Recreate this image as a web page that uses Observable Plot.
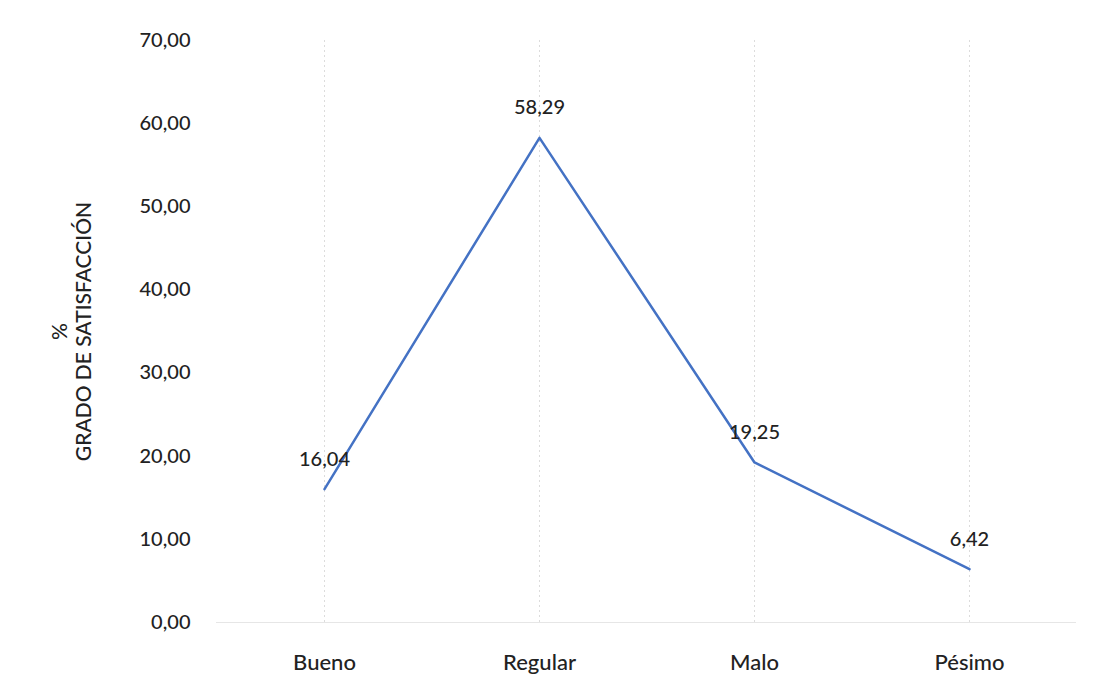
<!DOCTYPE html>
<html>
<head>
<meta charset="utf-8">
<script src="https://cdn.jsdelivr.net/npm/d3@7"></script>
<script src="https://cdn.jsdelivr.net/npm/@observablehq/plot@0.6"></script>
<style>
  html, body { margin: 0; padding: 0; background: #ffffff; }
  #chart { width: 1098px; height: 693px; }
  svg { font-family: Lato, "Open Sans", sans-serif; }
</style>
</head>
<body>
<div id="chart"></div>
<script>
const categories = ["Bueno", "Regular", "Malo", "Pésimo"];
const values = [16.04, 58.29, 19.25, 6.42];
const yTicks = [0, 10, 20, 30, 40, 50, 60, 70];
const yTitleLines = ["%", "GRADO DE SATISFACCIÓN"];

const data = categories.map((c, i) => ({ category: c, value: values[i] }));
const fmt = v => v.toFixed(2).replace(".", ",");

const chart = Plot.plot({
  width: 1098,
  height: 693,
  marginLeft: 216,
  marginRight: 22,
  marginTop: 40,
  marginBottom: 71,
  style: { fontFamily: "Lato, 'Open Sans', sans-serif", background: "#ffffff", color: "#222" },
  x: { type: "point", domain: categories, padding: 0.5, label: null },
  y: { domain: [0, 70], label: null },
  marks: [
    Plot.ruleX(categories, { stroke: "#dcdcdc", strokeWidth: 1, strokeDasharray: "2,3" }),
    Plot.ruleY([0], { stroke: "#e6e6e6", strokeWidth: 1 }),
    Plot.axisY({ ticks: yTicks, tickSize: 0, tickPadding: 26, tickFormat: fmt, fontSize: 20, fontWeight: 500, fill: "#222", label: null }),
    Plot.axisX({ tickSize: 0, tickPadding: 32, fontSize: 22, fontWeight: 500, fill: "#222", label: null }),
    Plot.line(data, { x: "category", y: "value", stroke: "#4472C4", strokeWidth: 2.5 }),
    Plot.text(data, { x: "category", y: "value", text: d => fmt(d.value), dy: -30, fontSize: 20, fontWeight: 500, fill: "#222" }),
    Plot.text([yTitleLines[0]], { frameAnchor: "left", textAnchor: "middle", dx: -156, rotate: -90, text: d => d, fontSize: 21, fontWeight: 500, fill: "#222" }),
    Plot.text([yTitleLines[1]], { frameAnchor: "left", textAnchor: "middle", dx: -132, rotate: -90, text: d => d, fontSize: 21, fontWeight: 500, fill: "#222" })
  ]
});
document.getElementById("chart").appendChild(chart);
</script>
</body>
</html>
